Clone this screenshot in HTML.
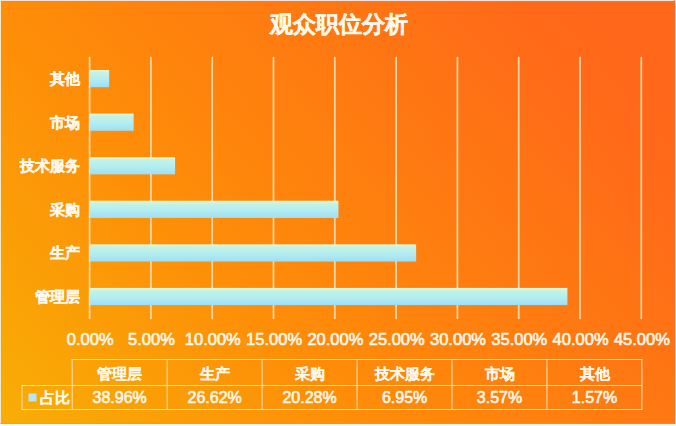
<!DOCTYPE html>
<html><head><meta charset="utf-8">
<style>
html,body{margin:0;padding:0;}
body{width:676px;height:426px;overflow:hidden;position:relative;font-family:"Liberation Sans",sans-serif;background:#FF8010;}
svg{position:absolute;left:0;top:0;}
.t{position:absolute;color:#FFF8EC;font-weight:bold;white-space:nowrap;-webkit-text-stroke:0.35px #FFF8EC;}
#title{left:1px;width:676px;top:9.5px;text-align:center;font-size:22.6px;line-height:30px;}
.cat{right:596px;font-size:15px;line-height:18px;text-align:right;}
.ax{top:329px;width:80px;margin-left:-40px;text-align:center;font-size:16.5px;line-height:20px;font-weight:normal;-webkit-text-stroke:0.6px #FFF8EC;}
.cell{width:95px;text-align:center;font-size:15px;line-height:20px;-webkit-text-stroke:0.1px #FFF8EC;}
.num{font-size:16px;font-weight:normal;-webkit-text-stroke:0.6px #FFF8EC;}
</style></head><body>
<svg width="676" height="426" viewBox="0 0 676 426"><defs><linearGradient id="bg" gradientUnits="userSpaceOnUse" x1="0" y1="426" x2="596" y2="-92"><stop offset="0" stop-color="#F8AE05"/><stop offset="0.35" stop-color="#FE8D08"/><stop offset="0.85" stop-color="#FF6919"/><stop offset="1" stop-color="#FF671C"/></linearGradient><linearGradient id="bar" x1="0" y1="0" x2="0" y2="1"><stop offset="0" stop-color="#E6F8D6"/><stop offset="0.15" stop-color="#C6F3E4"/><stop offset="0.55" stop-color="#B2EDF0"/><stop offset="1" stop-color="#9EDFF7"/></linearGradient></defs><rect x="0" y="0" width="676" height="426" fill="url(#bg)"/><rect x="88.75" y="56.8" width="1.7" height="262.30" fill="#FFD8A6"/><rect x="150.05" y="56.8" width="1.7" height="262.30" fill="#FFD8A6"/><rect x="211.35" y="56.8" width="1.7" height="262.30" fill="#FFD8A6"/><rect x="272.65" y="56.8" width="1.7" height="262.30" fill="#FFD8A6"/><rect x="333.95" y="56.8" width="1.7" height="262.30" fill="#FFD8A6"/><rect x="395.25" y="56.8" width="1.7" height="262.30" fill="#FFD8A6"/><rect x="456.55" y="56.8" width="1.7" height="262.30" fill="#FFD8A6"/><rect x="517.85" y="56.8" width="1.7" height="262.30" fill="#FFD8A6"/><rect x="579.15" y="56.8" width="1.7" height="262.30" fill="#FFD8A6"/><rect x="640.45" y="56.8" width="1.7" height="262.30" fill="#FFD8A6"/><rect x="89.9" y="69.99" width="19.24" height="17.2" fill="url(#bar)"/><rect x="89.9" y="113.58" width="43.75" height="17.2" fill="url(#bar)"/><rect x="89.9" y="157.16" width="85.18" height="17.2" fill="url(#bar)"/><rect x="89.9" y="200.74" width="248.55" height="17.2" fill="url(#bar)"/><rect x="89.9" y="244.33" width="326.25" height="17.2" fill="url(#bar)"/><rect x="89.9" y="287.91" width="477.49" height="17.2" fill="url(#bar)"/><rect x="71.70" y="359" width="570.70" height="1" fill="#FFE2B4"/><rect x="21.5" y="385" width="620.90" height="1" fill="#FFE2B4"/><rect x="21.5" y="409" width="620.90" height="1" fill="#FFE2B4"/><rect x="21.5" y="385" width="1" height="25" fill="#FFE2B4"/><rect x="71.70" y="359" width="1" height="51" fill="#FFE2B4"/><rect x="166.65" y="359" width="1" height="51" fill="#FFE2B4"/><rect x="261.60" y="359" width="1" height="51" fill="#FFE2B4"/><rect x="356.55" y="359" width="1" height="51" fill="#FFE2B4"/><rect x="451.50" y="359" width="1" height="51" fill="#FFE2B4"/><rect x="546.45" y="359" width="1" height="51" fill="#FFE2B4"/><rect x="641.40" y="359" width="1" height="51" fill="#FFE2B4"/><rect x="28.5" y="393.5" width="8" height="8" fill="#B2E6F4"/><rect x="0" y="1" width="676" height="1" fill="#E88A28" fill-opacity="0.5"/><rect x="0" y="0" width="676" height="1" fill="#F2E0DA"/><rect x="0" y="0" width="1" height="426" fill="#F0E8CC"/><rect x="674" y="0" width="1" height="426" fill="#E87040" fill-opacity="0.5"/><rect x="675" y="0" width="1" height="426" fill="#FFD6BC"/><rect x="0" y="423" width="676" height="1" fill="#E89A30" fill-opacity="0.5"/><rect x="0" y="424" width="676" height="2" fill="#FCF6F0"/></svg>
<div id="title" class="t">观众职位分析</div>
<div class="t cat" style="top:70.1px">其他</div>
<div class="t cat" style="top:113.7px">市场</div>
<div class="t cat" style="top:157.3px">技术服务</div>
<div class="t cat" style="top:200.8px">采购</div>
<div class="t cat" style="top:244.4px">生产</div>
<div class="t cat" style="top:288.0px">管理层</div>
<div class="t ax" style="left:90.2px">0.00%</div>
<div class="t ax" style="left:151.5px">5.00%</div>
<div class="t ax" style="left:212.8px">10.00%</div>
<div class="t ax" style="left:274.1px">15.00%</div>
<div class="t ax" style="left:335.4px">20.00%</div>
<div class="t ax" style="left:396.7px">25.00%</div>
<div class="t ax" style="left:458.0px">30.00%</div>
<div class="t ax" style="left:519.3px">35.00%</div>
<div class="t ax" style="left:580.6px">40.00%</div>
<div class="t ax" style="left:641.9px">45.00%</div>
<div class="t cell" style="left:72.2px;top:363.5px">管理层</div>
<div class="t cell num" style="left:72.2px;top:388px">38.96%</div>
<div class="t cell" style="left:167.2px;top:363.5px">生产</div>
<div class="t cell num" style="left:167.2px;top:388px">26.62%</div>
<div class="t cell" style="left:262.1px;top:363.5px">采购</div>
<div class="t cell num" style="left:262.1px;top:388px">20.28%</div>
<div class="t cell" style="left:357.1px;top:363.5px">技术服务</div>
<div class="t cell num" style="left:357.1px;top:388px">6.95%</div>
<div class="t cell" style="left:452.0px;top:363.5px">市场</div>
<div class="t cell num" style="left:452.0px;top:388px">3.57%</div>
<div class="t cell" style="left:547.0px;top:363.5px">其他</div>
<div class="t cell num" style="left:547.0px;top:388px">1.57%</div>
<div class="t" style="left:40px;top:388px;font-size:15px;line-height:20px;-webkit-text-stroke:0.1px #FFF8EC">占比</div>
</body></html>
